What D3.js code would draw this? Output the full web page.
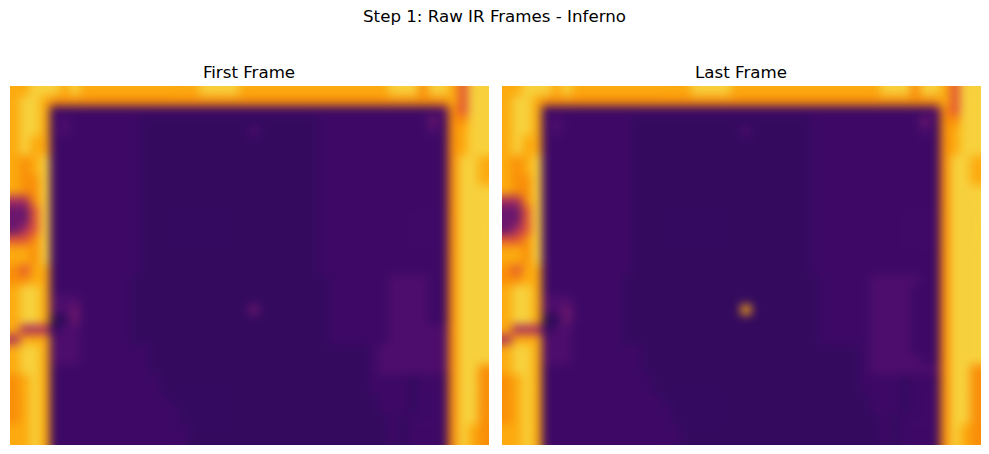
<!DOCTYPE html>
<html><head><meta charset="utf-8">
<script src="https://cdn.jsdelivr.net/npm/d3@7"></script>
<style>
body{margin:0;background:#fff}
svg{display:block}
text{font-family:"DejaVu Sans",sans-serif;fill:#000}
</style></head>
<body><svg id="c" width="989" height="454"></svg>
<script>
const title = "Step 1: Raw IR Frames - Inferno";
const panelTitles = ["First Frame", "Last Frame"];
// intensity level (0-9) -> normalized value on the inferno scale
const levels = [0.13, 0.17, 0.195, 0.228, 0.3, 0.46, 0.62, 0.75, 0.81, 0.89];

// 48 columns x 36 rows, one digit per cell
const firstFrame = [
"889998988888888888899998888888888888889997998699",
"899877777777777777777777777777777777777777778699",
"899822222222222222222222222222222222222222237699",
"899823222222211111111111111111122222222222427799",
"899823222222211111111111311111122222222222327899",
"898822222222211111111111111111122222222222227899",
"898822222222211111111111111111122222222222227899",
"878922222222211111111111111111122222222222227998",
"878922222222211111111111111111122222222222227998",
"877922222222211111111111111111122222222222227998",
"877922222222211111111111111111122222222222227999",
"557922222222211111111111111111122222222222227999",
"446922222222211111111111111111122222222222227999",
"446922222222211111111111111111122222222222227999",
"456922222222211111111111111111122222222222227999",
"667922222222211111111111111111122222222222227999",
"887922222222211111111111111111122222222222227999",
"887922222222211111111111111111122222222222227999",
"768822222222211111111111111111122222222222227999",
"778822222222111111111111111111112222223333227999",
"899822222222111111111111111111112222223333227999",
"899833322222111111111111111111112222223333227999",
"899833422222111111111111411111112222223333227999",
"899801422222111111111111111111112222223333227999",
"855513322222111111111111111111112222223333337999",
"588833322222111111111111111111112222223333337999",
"899833322222221111111111111111111111233333337999",
"899833322222221111111111111111111111233333337999",
"899822222222221111111111111111111111233333337997",
"789822222222222111111111111111111111222212227997",
"789822222222222111111111111111111111222212227997",
"789822222222222211111111111111111111122212227997",
"789822222222222221111111111111111111122212227997",
"789822222222222221111111111111111111112122227997",
"889822222222222222111111111111111111112122227987",
"889822222222222222111111111111111111112122227987"
];

const lastFrame = [
"889998988888888888899998888888888888889997998699",
"899877777777777777777777777777777777777777778699",
"899822222222222222222222222222222222222222237699",
"899823222222211111111111111111122222222222427799",
"899823222222211111111111311111122222222222327899",
"898822222222211111111111111111122222222222227899",
"898822222222211111111111111111122222222222227899",
"878922222222211111111111111111122222222222227998",
"878922222222211111111111111111122222222222227998",
"877922222222211111111111111111122222222222227998",
"877922222222211111111111111111122222222222227999",
"557922222222211111111111111111122222222222227999",
"446922222222211111111111111111122222222222227999",
"446922222222211111111111111111122222222222227999",
"456922222222211111111111111111122222222222227999",
"667922222222211111111111111111122222222222227999",
"887922222222211111111111111111122222222222227999",
"887922222222211111111111111111122222222222227999",
"768822222222211111111111111111122222222222227999",
"778822222222111111111111111111112222233333227999",
"899822222222111111111111111111112222233332227999",
"899833322222111111111111111111112222233332227999",
"899833422222111111111111811111112222233332227999",
"899801422222111111111111111111112222233332227999",
"855513322222111111111111111111112222233332227999",
"588833322222111111111111111111112222233332227999",
"899833322222221111111111111111111111233332227999",
"899833322222221111111111111111111111233333227999",
"899822222222221111111111111111111111233333337997",
"789822222222222111111111111111111111222212227997",
"789822222222222111111111111111111111222212227997",
"789822222222222211111111111111111111122212227997",
"789822222222222221111111111111111111122212227997",
"789822222222222221111111111111111111112122227997",
"889822222222222222111111111111111111112122227987",
"889822222222222222111111111111111111112122227987"
];

const frames = [firstFrame, lastFrame];
const svg = d3.select("#c");
const W = 989;

const defs = svg.append("defs");
const f = defs.append("filter").attr("id", "sm")
  .attr("x", 0).attr("y", 0).attr("width", 1).attr("height", 1)
  .attr("color-interpolation-filters", "sRGB");
f.append("feGaussianBlur").attr("stdDeviation", 4.8);
f.append("feComponentTransfer").append("feFuncA").attr("type", "table").attr("tableValues", "1 1");

const color = d3.scaleSequential(d3.interpolateInferno).domain([0, 1]);
const panelX = [[10, 488], [502, 980]];
const yRange = [86, 444];

svg.append("text").attr("x", W / 2).attr("y", 22).attr("text-anchor", "middle")
  .style("font-size", "16.67px").text(title);

frames.forEach((frame, i) => {
  const nCols = frame[0].length, nRows = frame.length;
  const x = d3.scaleBand().domain(d3.range(nCols)).range(panelX[i]);
  const y = d3.scaleBand().domain(d3.range(nRows)).range(yRange);
  const cells = [];
  frame.forEach((row, r) => { for (let c = 0; c < row.length; c++) cells.push({r, c, v: levels[+row[c]]}); });
  const g = svg.append("g").attr("filter", "url(#sm)");
  g.selectAll("rect").data(cells).join("rect")
    .attr("x", d => x(d.c)).attr("y", d => y(d.r))
    .attr("width", x.bandwidth() + 0.6).attr("height", y.bandwidth() + 0.6)
    .attr("fill", d => color(d.v));
  svg.append("text").attr("x", (panelX[i][0] + panelX[i][1]) / 2).attr("y", 78)
    .attr("text-anchor", "middle").style("font-size", "16.67px").text(panelTitles[i]);
});
</script></body></html>
